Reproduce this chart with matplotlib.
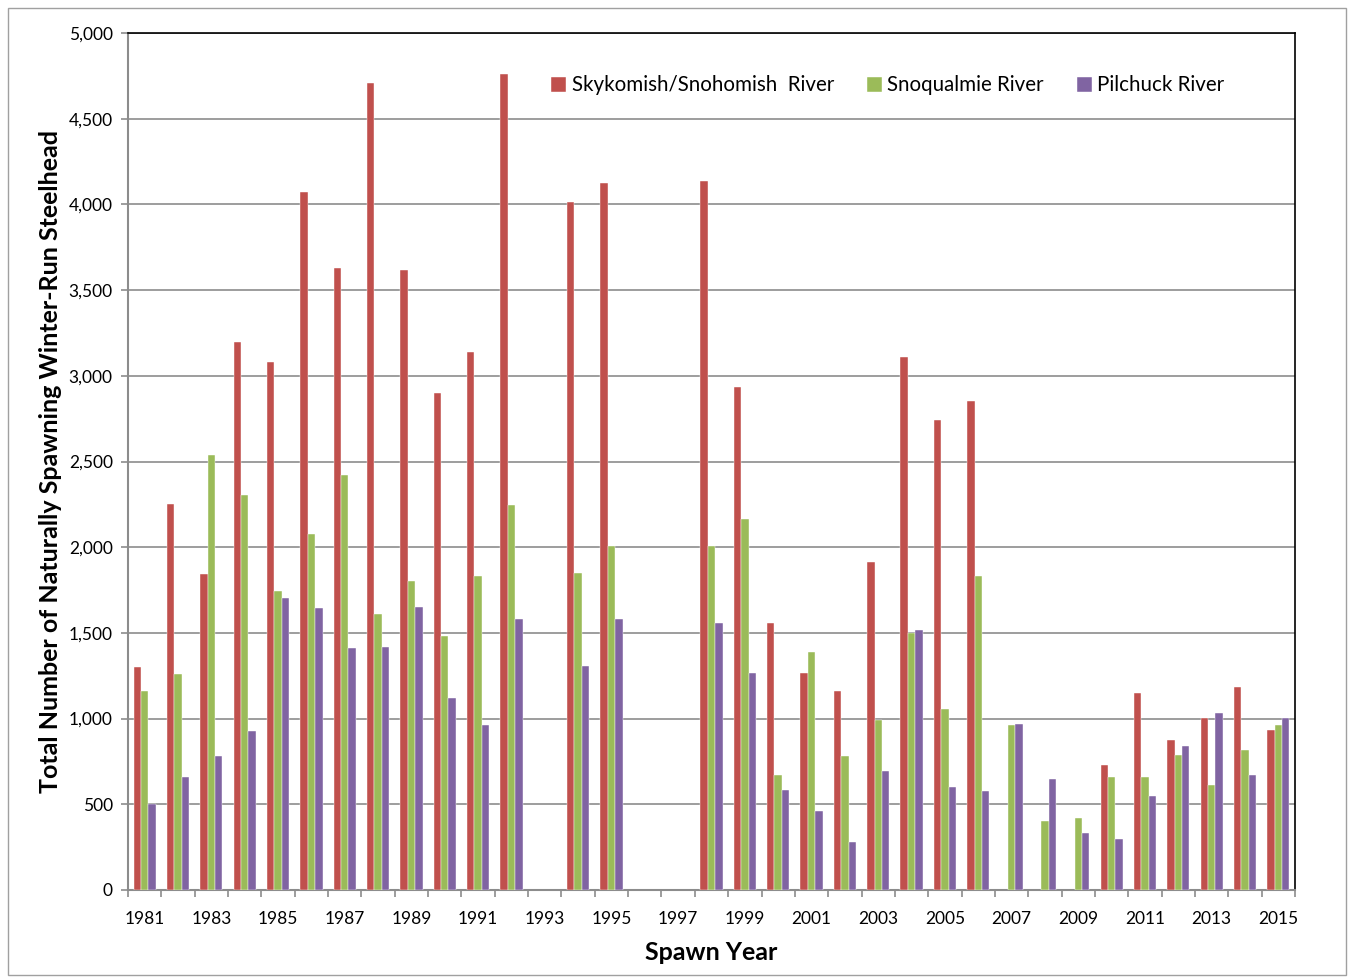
import numpy as np
import matplotlib
matplotlib.use("Agg")
import matplotlib.pyplot as plt
from matplotlib.patches import Rectangle

plt.rcParams["font.family"] = ["Lato", "DejaVu Sans"]

years = list(range(1981, 2016))
nan = np.nan
# spawner counts (NaN = no estimate)
skykomish = [1300, 2250, 1845, 3200, 3080, 4075, 3630, 4710, 3620, 2900,
             3140, 4760, nan, 4015, 4125, nan, nan, 4135, 2935, 1555,
             1265, 1160, 1915, 3110, 2745, 2855, nan, nan, nan, 730,
             1150, 875, 1005, 1185, 935]
snoqualmie = [1160, 1260, 2540, 2305, 1745, 2075, 2420, 1610, 1805, 1480,
              1830, 2245, nan, 1850, 2005, nan, nan, 2005, 2165, 670,
              1390, 780, 990, 1500, 1055, 1830, 960, 405, 420, 660,
              660, 790, 610, 815, 960]
pilchuck = [500, 660, 780, 930, 1705, 1645, 1410, 1420, 1650, 1120,
            965, 1580, nan, 1305, 1580, nan, nan, 1555, 1265, 585,
            460, 280, 695, 1515, 600, 575, 970, 645, 335, 295,
            550, 840, 1030, 670, 1005]
series = ["Skykomish/Snohomish  River", "Snoqualmie River", "Pilchuck River"]
colors = ["#C0504D", "#9BBB59", "#8064A2"]

fig = plt.figure(figsize=(13.48, 9.77), dpi=100)
ax = fig.add_axes([128 / 1348, 87 / 977, 1167 / 1348, 857 / 977])

x = np.arange(len(years))
w = 1 / 4.5   # excel gap width 150%
for i, (vals, name, c) in enumerate(zip([skykomish, snoqualmie, pilchuck], series, colors)):
    ax.bar(x + (i - 1) * w, vals, width=w, color=c, label=name,
           edgecolor="white", linewidth=0.3, zorder=3)

ax.set_xlim(-0.5, len(years) - 0.5)
ax.set_ylim(0, 5000)
ax.set_yticks(np.arange(0, 5001, 500))
ax.set_yticklabels([f"{v:,}" for v in range(0, 5001, 500)])
ax.yaxis.grid(True, color="#8c8c8c", linewidth=1.2, zorder=0)

ax.set_xticks(x[::2])
ax.set_xticklabels([str(y) for y in years[::2]])
ax.set_xticks(np.arange(-0.5, len(years), 1), minor=True)
ax.tick_params(axis="x", which="major", length=0, pad=15, labelsize=12.5)
ax.tick_params(axis="x", which="minor", length=5, color="#8c8c8c", width=1.2)
ax.tick_params(axis="y", length=5, color="#8c8c8c", width=1.2, pad=6, labelsize=12.5)

for s in ["left", "bottom"]:
    ax.spines[s].set_color("#8c8c8c")
    ax.spines[s].set_linewidth(1.5)
for s in ["top", "right"]:
    ax.spines[s].set_color("black")
    ax.spines[s].set_linewidth(1.2)

ax.set_xlabel("Spawn Year", fontsize=18, fontweight="bold", labelpad=10)
ax.set_ylabel("Total Number of Naturally Spawning Winter-Run Steelhead",
              fontsize=18, fontweight="bold", labelpad=5)

ax.legend(loc="center", bbox_to_anchor=(0.651, 0.939), ncol=3, frameon=False,
          fontsize=14.8, handlelength=0.75, handleheight=0.75, handletextpad=0.25,
          columnspacing=1.6)

fig.patches.append(Rectangle((8 / 1348, 2 / 977), 1338 / 1348, 967 / 977,
                             transform=fig.transFigure, fill=False,
                             edgecolor="#a0a0a0", linewidth=1))

fig.savefig("out.png", dpi=100)
